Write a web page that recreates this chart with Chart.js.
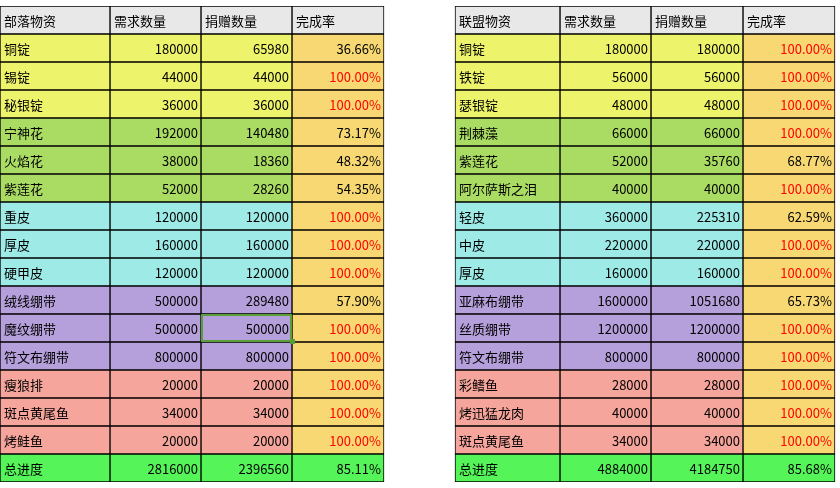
<!DOCTYPE html>
<html>
<head>
<meta charset="utf-8">
<script src="https://cdn.jsdelivr.net/npm/chart.js@4"></script>
<style>
  body { margin: 0; background: #fff; }
</style>
</head>
<body>
<canvas id="sheet" width="840" height="488"></canvas>
<script>
// table data
const leftHeader = ["部落物资", "需求数量", "捐赠数量", "完成率"];
const leftItems = ["铜锭", "锡锭", "秘银锭", "宁神花", "火焰花", "紫莲花", "重皮", "厚皮", "硬甲皮", "绒线绷带", "魔纹绷带", "符文布绷带", "瘦狼排", "斑点黄尾鱼", "烤鲑鱼", "总进度"];
const leftNeed = [180000, 44000, 36000, 192000, 38000, 52000, 120000, 160000, 120000, 500000, 500000, 800000, 20000, 34000, 20000, 2816000];
const leftDonated = [65980, 44000, 36000, 140480, 18360, 28260, 120000, 160000, 120000, 289480, 500000, 800000, 20000, 34000, 20000, 2396560];
const leftRate = ["36.66%", "100.00%", "100.00%", "73.17%", "48.32%", "54.35%", "100.00%", "100.00%", "100.00%", "57.90%", "100.00%", "100.00%", "100.00%", "100.00%", "100.00%", "85.11%"];

const rightHeader = ["联盟物资", "需求数量", "捐赠数量", "完成率"];
const rightItems = ["铜锭", "铁锭", "瑟银锭", "荆棘藻", "紫莲花", "阿尔萨斯之泪", "轻皮", "中皮", "厚皮", "亚麻布绷带", "丝质绷带", "符文布绷带", "彩鳍鱼", "烤迅猛龙肉", "斑点黄尾鱼", "总进度"];
const rightNeed = [180000, 56000, 48000, 66000, 52000, 40000, 360000, 220000, 160000, 1600000, 1200000, 800000, 28000, 40000, 34000, 4884000];
const rightDonated = [180000, 56000, 48000, 66000, 35760, 40000, 225310, 220000, 160000, 1051680, 1200000, 800000, 28000, 40000, 34000, 4184750];
const rightRate = ["100.00%", "100.00%", "100.00%", "100.00%", "68.77%", "100.00%", "62.59%", "100.00%", "100.00%", "65.73%", "100.00%", "100.00%", "100.00%", "100.00%", "100.00%", "85.68%"];

// layout
const rowLabels = ["header"].concat(leftItems.map((_, i) => "r" + i));
const colWidths = [110, 91, 91, 92, 71, 105, 91, 92, 92];
const groupColors = ["#eef36c", "#eef36c", "#eef36c", "#aadc64", "#aadc64", "#aadc64",
  "#9eeae6", "#9eeae6", "#9eeae6", "#b6a0dc", "#b6a0dc", "#b6a0dc",
  "#f5a59b", "#f5a59b", "#f5a59b", "#55f55a"];

function cellText(col, row) {
  if (row === 0) {
    if (col < 4) return leftHeader[col];
    if (col > 4) return rightHeader[col - 5];
    return "";
  }
  const i = row - 1;
  const cols = [leftItems, leftNeed, leftDonated, leftRate, null, rightItems, rightNeed, rightDonated, rightRate];
  return cols[col] ? String(cols[col][i]) : "";
}

function cellColor(col, row) {
  if (col === 4) return "rgba(0,0,0,0)";
  if (row === 0) return "#e8e8e8";
  const c = col % 5;
  if (c === 3 && row < 16) return "#f7d873";
  return groupColors[row - 1];
}

const datasets = colWidths.map((w, col) => ({
  data: rowLabels.map(() => w),
  backgroundColor: ctx => cellColor(col, ctx.dataIndex),
  borderColor: col === 4 ? "rgba(0,0,0,0)" : "#000",
  borderWidth: col === 4 ? 0 : 1,
  borderSkipped: false,
  categoryPercentage: 1,
  barPercentage: 1
}));

const textPlugin = {
  id: "cellText",
  afterDatasetsDraw(chart) {
    const ctx = chart.ctx;
    ctx.save();
    ctx.font = "13px 'Noto Sans CJK SC'";
    ctx.textBaseline = "middle";
    chart.data.datasets.forEach((ds, col) => {
      chart.getDatasetMeta(col).data.forEach((bar, row) => {
        const t = cellText(col, row);
        if (!t) return;
        const left = Math.min(bar.x, bar.base), right = Math.max(bar.x, bar.base);
        const c = col % 5;
        ctx.fillStyle = (row > 0 && row < 16 && c === 3 && t === "100.00%") ? "#ff0000" : "#000";
        if (row === 0 || c === 0) {
          ctx.textAlign = "left";
          ctx.fillText(t, left + 4, bar.y + 1);
        } else {
          ctx.textAlign = "right";
          ctx.fillText(t, right - 3, bar.y + 1);
        }
        if (col === 2 && row === 11) {
          ctx.strokeStyle = "#5a9e3a";
          ctx.lineWidth = 2;
          ctx.strokeRect(left + 1, bar.y - bar.height / 2 + 1, right - left - 2, bar.height - 2);
          ctx.fillStyle = "#5a9e3a";
          ctx.fillRect(right - 2, bar.y + bar.height / 2 - 3, 5, 5);
        }
      });
    });
    ctx.restore();
  }
};

new Chart(document.getElementById("sheet").getContext("2d"), {
  type: "bar",
  data: { labels: rowLabels, datasets: datasets },
  options: {
    indexAxis: "y",
    responsive: false,
    animation: false,
    layout: { padding: { top: 6, bottom: 6, left: 0, right: 0 } },
    scales: {
      x: { type: "linear", min: 0, max: 840, stacked: true, display: false },
      y: { stacked: true, display: false }
    },
    plugins: { legend: { display: false }, tooltip: { enabled: false } }
  },
  plugins: [textPlugin]
});
</script>
</body>
</html>
